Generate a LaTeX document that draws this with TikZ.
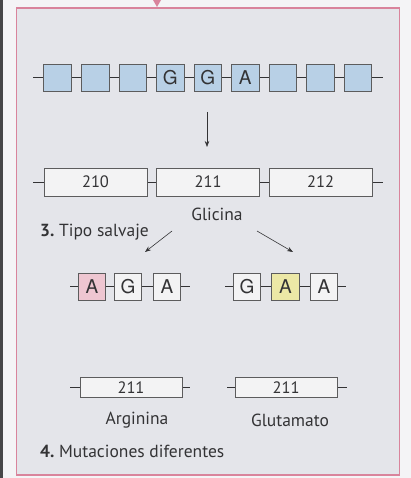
\documentclass[tikz,border=0pt]{standalone}
\usepackage{fontspec}
\setmainfont{PT Sans}
\newfontfamily\boxfont{TeX Gyre Heros}
\usetikzlibrary{arrows.meta}
\definecolor{pagebg}{HTML}{F4F4F6}
\definecolor{panelbg}{HTML}{E4E5EA}
\definecolor{framepink}{HTML}{D9849C}
\definecolor{boxblue}{HTML}{B8D0E6}
\definecolor{boxlight}{HTML}{F3F3F4}
\definecolor{boxpink}{HTML}{EEC6D1}
\definecolor{boxyellow}{HTML}{ECE8A6}
\definecolor{ink}{HTML}{333335}
\tikzset{
  x=1pt, y=-1pt,
  strand/.style={draw=ink, line width=0.6pt},
  base/.style={draw=ink!80, line width=0.6pt, minimum width=27.5pt, minimum height=27pt, inner sep=0pt, font=\boxfont\fontsize{19}{19}\selectfont, text=ink},
  blue/.style={base, fill=boxblue},
  light/.style={base, fill=boxlight},
  codon/.style={draw=ink!80, line width=0.6pt, fill=boxlight, minimum width=103pt, minimum height=28pt, inner sep=0pt, font=\fontsize{16.5}{16.5}\selectfont, text=ink},
  lbl/.style={font=\fontsize{17.5}{17.5}\selectfont, text=ink, inner sep=0pt},
  arr/.style={draw=ink, line width=0.6pt, -{Stealth[length=6pt,width=4.5pt]}}
}
\begin{document}
\begin{tikzpicture}
\useasboundingbox (0,0) rectangle (411,478);
\fill[pagebg] (0,0) rectangle (411,478);
\fill[ink!90] (0,0) rectangle (3,478);
\draw[framepink, line width=1.6pt, fill=panelbg] (16.5,8) rectangle (399.5,475);
\fill[framepink] (153,0) -- (161,0) -- (157,7) -- cycle;

% row 1
\coordinate (s1a) at (33,77.5);
\coordinate (s1b) at (383,77.5);
\draw[strand] (s1a) -- (s1b);
\foreach \i/\t in {1/,2/,3/,4/G,5/G,6/A,7/,8/,9/} {
  \node[blue] (b\i) at ({57.5+37.56*(\i-1)},77.5) {\t};
}

% arrow down
\coordinate (d1) at (207,112);
\coordinate (d2) at (207,147);
\draw[arr] (d1) -- (d2);

% row 2
\coordinate (s2a) at (33,182);
\coordinate (s2b) at (383,182);
\draw[strand] (s2a) -- (s2b);
\node[codon] (c210) at (95.5,182) {210};
\node[codon] (c211) at (208,182) {211};
\node[codon] (c212) at (320.5,182) {212};

\node[lbl] (gly) at (217,214) {Glicina};
\node[lbl, anchor=west] (wt) at (40,232) {\textbf{3.}\ Tipo salvaje};

\coordinate (l1) at (172,231);
\coordinate (l2) at (145,252);
\coordinate (r1) at (257,231);
\coordinate (r2) at (293,252);
\draw[arr] (l1) -- (l2);
\draw[arr] (r1) -- (r2);

% row 3
\coordinate (s3a) at (70,286.5);
\coordinate (s3b) at (190,286.5);
\draw[strand] (s3a) -- (s3b);
\node[base, fill=boxpink] (m1) at (92,286.5) {A};
\node[light] (m2) at (128,286.5) {G};
\node[light] (m3) at (167,286.5) {A};

\coordinate (s4a) at (225,286.5);
\coordinate (s4b) at (346,286.5);
\draw[strand] (s4a) -- (s4b);
\node[light] (n1) at (247,286.5) {G};
\node[base, fill=boxyellow] (n2) at (285.5,286.5) {A};
\node[light] (n3) at (324,286.5) {A};

% row 4
\coordinate (s5a) at (70,387.5);
\coordinate (s5b) at (190,387.5);
\draw[strand] (s5a) -- (s5b);
\node[codon, minimum width=102pt, minimum height=20pt] (arg) at (131,387.5) {211};
\coordinate (s6a) at (227,387.5);
\coordinate (s6b) at (347,387.5);
\draw[strand] (s6a) -- (s6b);
\node[codon, minimum width=102pt, minimum height=20pt] (glu) at (286,387.5) {211};

\node[lbl] (argl) at (137,420) {Arginina};
\node[lbl] (glul) at (290,420) {Glutamato};

\node[lbl, anchor=west] (mut) at (40,451) {\textbf{4.}\ Mutaciones diferentes};
\end{tikzpicture}
\end{document}
